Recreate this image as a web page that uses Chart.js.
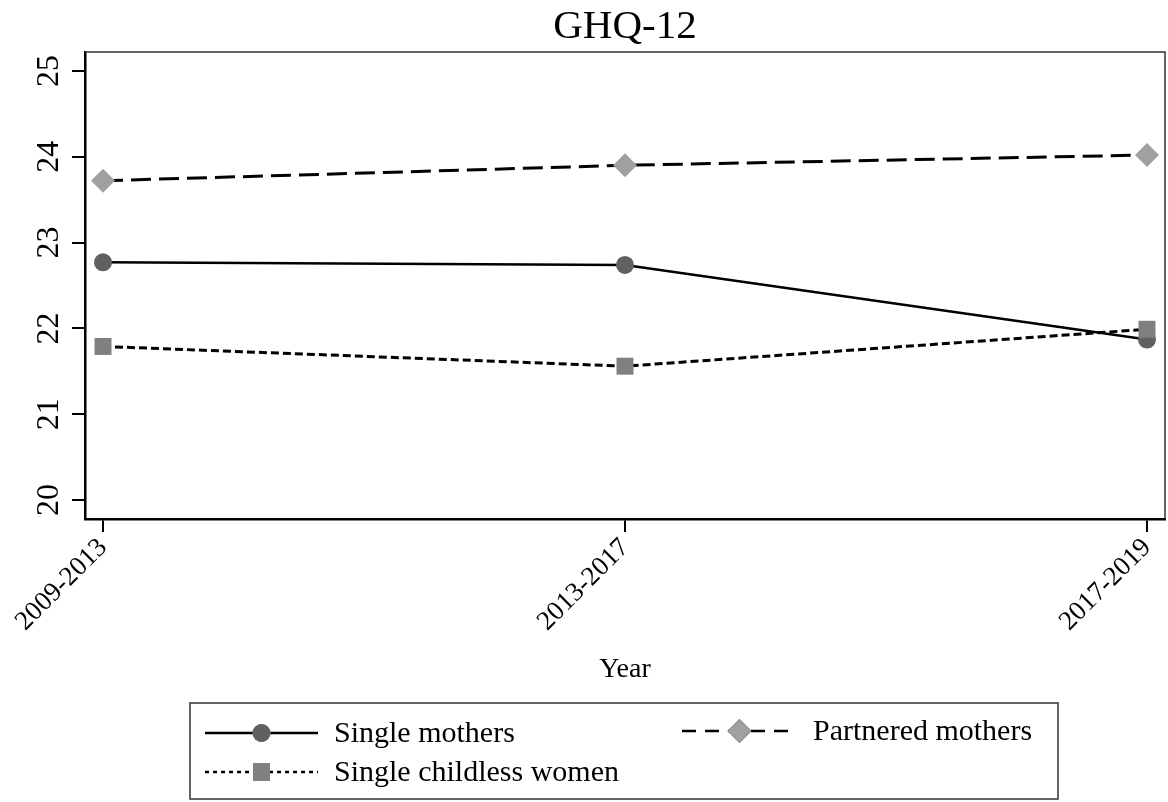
<!DOCTYPE html>
<html>
<head>
<meta charset="utf-8">
<script src="https://cdn.jsdelivr.net/npm/chart.js@4"></script>
<style>
  html, body { margin: 0; padding: 0; background: #fff; }
  #wrap { width: 1168px; height: 802px; }
</style>
</head>
<body>
<div id="wrap"><canvas id="ghqChart" width="1168" height="802"></canvas></div>
<script>
// values
var chartTitle = "GHQ-12";
var periods = ["2009-2013", "2013-2017", "2017-2019"];
var singleMothers = [22.77, 22.74, 21.87];
var partneredMothers = [23.72, 23.90, 24.02];
var singleChildless = [21.79, 21.56, 21.99];
var yTicks = [20, 21, 22, 23, 24, 25];

var serif = "'Liberation Serif', 'Times New Roman', serif";

function toPoints(arr) {
    return arr.map(function (v, i) { return { x: i, y: v }; });
}

//draws title over the plot, rotated y labels, the box frame and the boxed legend
var stataBits = {
    id: 'stataBits',
    afterDraw: function (chart) {
        var ctx = chart.ctx;
        var area = chart.chartArea;
        var yScale = chart.scales.y;

        //title centred on the plot region
        ctx.save();
        ctx.fillStyle = '#000';
        ctx.font = '41px ' + serif;
        ctx.textAlign = 'center';
        ctx.textBaseline = 'alphabetic';
        ctx.fillText(chartTitle, (area.left + area.right) / 2, 38);
        ctx.restore();

        //top + right frame
        ctx.save();
        ctx.strokeStyle = '#333';
        ctx.lineWidth = 1.5;
        ctx.beginPath();
        ctx.moveTo(area.left, area.top);
        ctx.lineTo(area.right, area.top);
        ctx.lineTo(area.right, area.bottom);
        ctx.stroke();
        ctx.restore();

        //y tick labels, turned 90 degrees
        ctx.save();
        ctx.fillStyle = '#000';
        ctx.font = '32px ' + serif;
        ctx.textAlign = 'center';
        ctx.textBaseline = 'middle';
        yScale.ticks.forEach(function (t) {
            var py = yScale.getPixelForValue(t.value);
            ctx.save();
            ctx.translate(50, py);
            ctx.rotate(-Math.PI / 2);
            ctx.fillText(String(t.value), 0, 0);
            ctx.restore();
        });
        ctx.restore();

        //legend box
        var boxL = 190, boxT = 703, boxW = 868, boxH = 96;
        ctx.save();
        ctx.strokeStyle = '#333';
        ctx.lineWidth = 1.5;
        ctx.strokeRect(boxL, boxT, boxW, boxH);

        var slots = [
            { x0: 205, x1: 318, y: 733 },
            { x0: 682, x1: 797, y: 731 },
            { x0: 205, x1: 318, y: 772 }
        ];
        var legendDash = [[], [14, 9], [4, 4]];
        chart.data.datasets.forEach(function (ds, i) {
            var s = slots[i];
            var mid = (s.x0 + s.x1) / 2;
            ctx.save();
            ctx.strokeStyle = '#000';
            ctx.lineWidth = 2.5;
            ctx.setLineDash(legendDash[i]);
            ctx.beginPath();
            ctx.moveTo(s.x0, s.y);
            ctx.lineTo(s.x1, s.y);
            ctx.stroke();
            ctx.restore();
            Chart.helpers.drawPoint(ctx, {
                pointStyle: ds.pointStyle,
                radius: ds.pointRadius,
                borderWidth: 0,
                rotation: 0
            }, mid, s.y);
            ctx.fillStyle = ds.pointBackgroundColor;
            ctx.fill();
            ctx.fillStyle = '#000';
            ctx.font = '30px ' + serif;
            ctx.textAlign = 'left';
            ctx.textBaseline = 'middle';
            ctx.fillText(ds.label, s.x1 + 16, s.y + 1);
        });
        ctx.restore();
    }
};

var ctx = document.getElementById('ghqChart').getContext('2d');
var ghqChart = new Chart(ctx, {
    type: 'line',
    data: {
        datasets: [{
            label: 'Single mothers',
            data: toPoints(singleMothers),
            borderColor: '#000',
            borderWidth: 2.5,
            pointStyle: 'circle',
            pointRadius: 9,
            pointBackgroundColor: '#606060',
            pointBorderWidth: 0,
            order: 1
        }, {
            label: 'Partnered mothers',
            data: toPoints(partneredMothers),
            borderColor: '#000',
            borderWidth: 3,
            borderDash: [20, 8],
            pointStyle: 'rectRot',
            pointRadius: 12,
            pointBackgroundColor: '#a0a0a0',
            pointBorderWidth: 0,
            order: 2
        }, {
            label: 'Single childless women',
            data: toPoints(singleChildless),
            borderColor: '#000',
            borderWidth: 3,
            borderDash: [8, 4],
            pointStyle: 'rect',
            pointRadius: 12,
            pointBackgroundColor: '#808080',
            pointBorderWidth: 0,
            order: 0
        }]
    },
    options: {
        responsive: false,
        animation: false,
        clip: false,
        layout: {
            autoPadding: false,
            padding: { left: 0, right: 3, top: 52, bottom: 102 }
        },
        plugins: {
            legend: { display: false },
            tooltip: { enabled: false },
            title: { display: false }
        },
        elements: {
            line: { tension: 0 }
        },
        scales: {
            x: {
                type: 'linear',
                min: -0.0345,
                max: 2.0345,
                afterBuildTicks: function (axis) {
                    axis.ticks = periods.map(function (p, i) { return { value: i }; });
                },
                afterFit: function (axis) {
                    axis.height = 181;
                    axis.paddingLeft = 0;
                    axis.paddingRight = 0;
                },
                border: { display: true, color: '#000', width: 2.5 },
                grid: {
                    drawOnChartArea: false,
                    drawTicks: true,
                    tickLength: 13,
                    color: '#000',
                    lineWidth: 2
                },
                ticks: {
                    autoSkip: false,
                    minRotation: 45,
                    maxRotation: 45,
                    padding: 0,
                    color: '#000',
                    font: { family: serif, size: 27 },
                    callback: function (v) { return periods[v]; }
                },
                title: {
                    display: true,
                    text: 'Year',
                    color: '#000',
                    font: { family: serif, size: 28 },
                    padding: { top: 0, bottom: 14 }
                }
            },
            y: {
                type: 'linear',
                min: 19.78,
                max: 25.22,
                afterBuildTicks: function (axis) {
                    axis.ticks = yTicks.map(function (v) { return { value: v }; });
                },
                afterFit: function (axis) {
                    axis.width = 85;
                    axis.paddingTop = 0;
                    axis.paddingBottom = 0;
                },
                border: { display: true, color: '#000', width: 2.5 },
                grid: {
                    drawOnChartArea: false,
                    drawTicks: true,
                    tickLength: 13,
                    color: '#000',
                    lineWidth: 2
                },
                ticks: { display: false }
            }
        }
    },
    plugins: [stataBits]
});
</script>
</body>
</html>
